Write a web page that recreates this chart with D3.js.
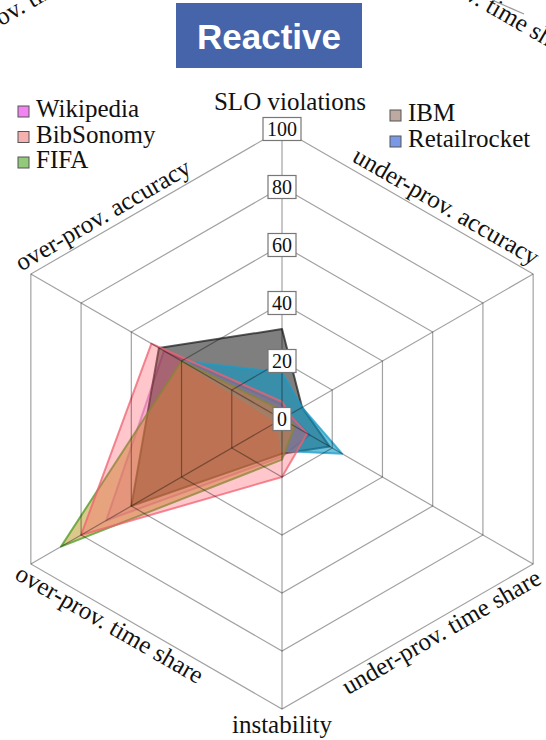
<!DOCTYPE html>
<html>
<head>
<meta charset="utf-8">
<title>Reactive</title>
<script src="https://cdn.jsdelivr.net/npm/d3@7"></script>
<style>
  body { margin: 0; background: #fff; }
  svg text { font-family: "Liberation Serif", "Times New Roman", serif; fill: #111; }
</style>
</head>
<body>
<script>
  // axes, clockwise from the top
  var axes = ['SLO violations', 'under-prov. accuracy', 'under-prov. time share',
    'instability', 'over-prov. time share', 'over-prov. accuracy'];
  var ticks = [0, 20, 40, 60, 80, 100];

  var series = ['Wikipedia', 'BibSonomy', 'FIFA', 'IBM', 'Retailrocket'];
  var wikipedia = [5, 3, 11, 13, 70, 47];
  var bibsonomy = [6, 3, 10, 20, 80, 52];
  var fifa = [3, 2, 5, 14, 88, 40];
  var ibm = [31, 8, 19, 12, 60, 49];
  var retailrocket = [16, 8, 24, 11, 2, 40];

  var width = 546, height = 740,
    cx = 282, cy = 419, radius = 290;

  var svg = d3.select('body').append('svg')
    .attr('width', width)
    .attr('height', height);

  var r = d3.scaleLinear().domain([0, 100]).range([0, radius]);
  var angle = d3.scalePoint().domain(d3.range(axes.length + 1)).range([0, 2 * Math.PI]);

  var radial = d3.lineRadial()
    .angle(function (d, i) { return angle(i); })
    .radius(function (d) { return r(d); })
    .curve(d3.curveLinearClosed);

  var g = svg.append('g').attr('transform', 'translate(' + cx + ',' + cy + ')');

  // data polygons, drawn bottom to top
  var styles = {
    Wikipedia: { fill: '#d040d0', op: 0.22, stroke: '#c050d0', sop: 0.5 },
    BibSonomy: { fill: '#ff5a66', op: 0.34, stroke: '#f06070', sop: 0.75 },
    FIFA: { fill: '#b89418', op: 0.5, stroke: '#4a9a22', sop: 0.75 },
    IBM: { fill: '#000000', op: 0.5, stroke: '#222222', sop: 0.75 },
    Retailrocket: { fill: '#0a98c4', op: 0.6, stroke: '#1a9ccc', sop: 0.75 }
  };
  var values = { Wikipedia: wikipedia, BibSonomy: bibsonomy, FIFA: fifa, IBM: ibm, Retailrocket: retailrocket };
  var drawOrder = ['Wikipedia', 'IBM', 'Retailrocket', 'FIFA', 'BibSonomy'];
  drawOrder.forEach(function (n) {
    var s = styles[n];
    g.append('path')
      .attr('d', radial(values[n]))
      .attr('fill', s.fill)
      .attr('fill-opacity', s.op)
      .attr('stroke', s.stroke)
      .attr('stroke-opacity', s.sop)
      .attr('stroke-width', 2)
      .attr('stroke-linejoin', 'round');
  });

  // grid, translucent so it darkens over the fills
  ticks.slice(1).forEach(function (t) {
    g.append('path')
      .attr('d', radial(axes.map(function () { return t; })))
      .attr('fill', 'none')
      .attr('stroke', '#000')
      .attr('stroke-opacity', 0.37)
      .attr('stroke-width', 1.2);
  });
  axes.forEach(function (a, i) {
    g.append('line')
      .attr('x1', 0).attr('y1', 0)
      .attr('x2', r(100) * Math.sin(angle(i)))
      .attr('y2', -r(100) * Math.cos(angle(i)))
      .attr('stroke', '#000')
      .attr('stroke-opacity', 0.37)
      .attr('stroke-width', 1.2);
  });

  // tick boxes on the top axis
  ticks.forEach(function (t) {
    var tg = g.append('g').attr('transform', 'translate(0,' + (-r(t)) + ')');
    var txt = tg.append('text')
      .attr('text-anchor', 'middle')
      .attr('dy', '0.35em')
      .style('font-size', '20px')
      .text(t);
    var w = txt.node().getComputedTextLength() + 8;
    tg.insert('rect', 'text')
      .attr('x', -w / 2).attr('y', -11.5)
      .attr('width', w).attr('height', 23)
      .attr('fill', '#fff')
      .attr('stroke', '#777')
      .attr('stroke-width', 1.2);
  });

  // axis labels
  function vertex(i) {
    return [cx + r(100) * Math.sin(angle(i)), cy - r(100) * Math.cos(angle(i))];
  }
  var labelPos = [
    { rot: 0, anchor: 'middle', dx: 8, dy: -19 },
    { rot: 30, anchor: 'end', dx: -4, dy: -7 },
    { rot: -30, anchor: 'end', dx: -1, dy: 21 },
    { rot: 0, anchor: 'middle', dx: 0, dy: 24 },
    { rot: 30, anchor: 'start', dx: -8, dy: 21 },
    { rot: -30, anchor: 'start', dx: -7, dy: -7 }
  ];
  axes.forEach(function (a, i) {
    var p = vertex(i), lp = labelPos[i];
    svg.append('text')
      .attr('transform', 'translate(' + p[0] + ',' + p[1] + ') rotate(' + lp.rot + ')')
      .attr('x', lp.dx).attr('y', lp.dy)
      .attr('text-anchor', lp.anchor)
      .style('font-size', '25px')
      .text(a);
  });

  // cut-off labels of the neighbouring charts
  svg.append('text')
    .attr('transform', 'translate(-73,69) rotate(-30)')
    .style('font-size', '25px')
    .text('under-prov. time share');
  svg.append('text')
    .attr('transform', 'translate(390,-44) rotate(30)')
    .style('font-size', '25px')
    .text('over-prov. time share');
  svg.append('line')
    .attr('x1', 492).attr('y1', 0).attr('x2', 524).attr('y2', 14)
    .attr('stroke', '#9a9a9a').attr('stroke-width', 1.2);

  // legends
  var legendColors = ['#f383f3', '#f7b0b0', '#92c97a', '#bba9a2', '#7b98e6'];
  var legendLeft = series.slice(0, 3), legendRight = series.slice(3);
  var ly = d3.scalePoint().domain(legendLeft).range([117, 168]);
  var ry = d3.scalePoint().domain(legendRight).range([121, 147]);
  function legend(names, yScale, x0) {
    names.forEach(function (n) {
      var k = series.indexOf(n);
      svg.append('rect')
        .attr('x', x0).attr('y', yScale(n) - 11)
        .attr('width', 11).attr('height', 11)
        .attr('fill', legendColors[k])
        .attr('stroke', '#555')
        .attr('stroke-width', 1);
      svg.append('text')
        .attr('x', x0 + 18).attr('y', yScale(n))
        .style('font-size', '25px')
        .text(n);
    });
  }
  legend(legendLeft, ly, 18);
  legend(legendRight, ry, 390);

  // title
  svg.append('rect')
    .attr('x', 176).attr('y', 3)
    .attr('width', 186).attr('height', 65)
    .attr('fill', '#4564aa');
  svg.append('text')
    .attr('x', 269).attr('y', 49)
    .attr('text-anchor', 'middle')
    .style('font-family', '"Liberation Sans", Arial, sans-serif')
    .style('font-weight', 'bold')
    .style('font-size', '35px')
    .style('fill', '#fff')
    .text('Reactive');
</script>
</body>
</html>
